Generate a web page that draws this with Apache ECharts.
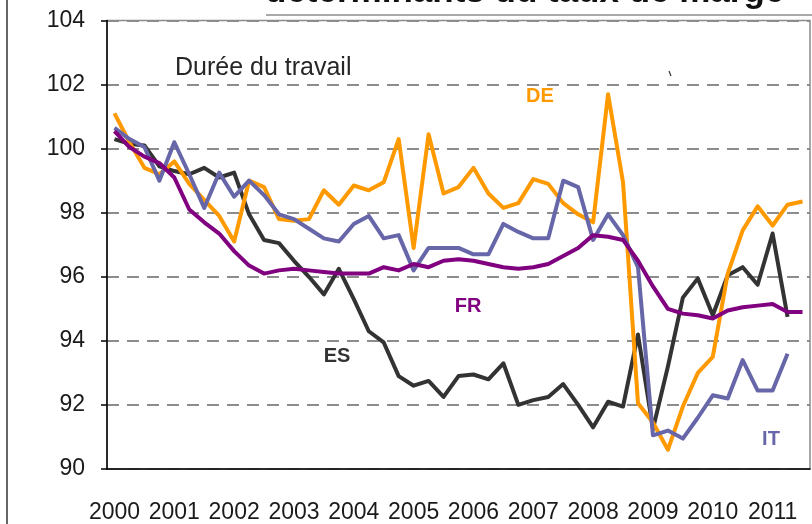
<!DOCTYPE html>
<html>
<head>
<meta charset="utf-8">
<script src="https://cdn.jsdelivr.net/npm/echarts@6/dist/echarts.min.js"></script>
<style>
  html, body { margin: 0; padding: 0; background: #fff; }
  #chart { width: 812px; height: 524px; }
</style>
</head>
<body>
<div id="chart"></div>
<script>
// années affichées sur l'axe, données trimestrielles 2000T1 - 2011T3
const years = ['2000', '2001', '2002', '2003', '2004', '2005', '2006', '2007', '2008', '2009', '2010', '2011']
const quarters = years.flatMap(y => [y + 'T1', y + 'T2', y + 'T3', y + 'T4']).slice(0, 47)
const yTicks = [90, 92, 94, 96, 98, 100, 102, 104]

const de = [101.1, 100.2, 99.4, 99.2, 99.6, 98.9, 98.4, 97.9, 97.1, 99.0, 98.8, 97.8,
  97.75, 97.8, 98.7, 98.25, 98.85, 98.7, 98.95, 100.3, 96.9, 100.45, 98.6, 98.8,
  99.4, 98.6, 98.15, 98.3, 99.05, 98.9, 98.3, 97.95, 97.7, 101.7, 98.95, 92.05,
  91.45, 90.6, 91.95, 93.0, 93.5, 96.1, 97.45, 98.2, 97.6, 98.25, 98.35]
const fr = [100.55, 100.05, 99.75, 99.55, 99.1, 98.1, 97.7, 97.35, 96.8, 96.35, 96.1, 96.2,
  96.25, 96.2, 96.15, 96.1, 96.1, 96.1, 96.3, 96.2, 96.4, 96.3, 96.5, 96.55,
  96.5, 96.4, 96.3, 96.25, 96.3, 96.4, 96.65, 96.9, 97.3, 97.25, 97.15, 96.5,
  95.7, 95.0, 94.85, 94.8, 94.7, 94.95, 95.05, 95.1, 95.15, 94.9, 94.9]
const it = [100.65, 100.3, 100.05, 99.0, 100.2, 99.2, 98.15, 99.25, 98.5, 99.0, 98.55, 97.95,
  97.8, 97.5, 97.2, 97.1, 97.65, 97.9, 97.2, 97.3, 96.2, 96.9, 96.9, 96.9,
  96.7, 96.7, 97.65, 97.4, 97.2, 97.2, 99.0, 98.8, 97.15, 97.95, 97.3, 96.3,
  91.05, 91.2, 90.95, 91.6, 92.3, 92.2, 93.4, 92.45, 92.45, 93.6]
const es = [100.3, 100.15, 100.1, 99.45, 99.3, 99.2, 99.4, 99.1, 99.25, 97.95, 97.15, 97.05,
  96.5, 96.0, 95.45, 96.25, 95.3, 94.3, 93.95, 92.9, 92.6, 92.75, 92.25, 92.9,
  92.95, 92.8, 93.3, 92.0, 92.15, 92.25, 92.65, 92.0, 91.3, 92.1, 91.95, 94.2,
  91.25, 93.2, 95.35, 95.95, 94.8, 96.05, 96.3, 95.75, 97.35, 94.75]

const font = 'Liberation Sans, Arial, sans-serif'

function line(name, data, color) {
  return {
    name: name,
    type: 'line',
    data: data,
    symbol: 'none',
    lineStyle: { color: color, width: 4, join: 'round' },
    itemStyle: { color: color }
  }
}

function tag(text, x, y, color) {
  return {
    type: 'text', x: x, y: y,
    style: { text: text, fill: color, font: 'bold 20px ' + font, align: 'center', verticalAlign: 'middle' }
  }
}

const myChart = echarts.init(document.getElementById('chart'))
myChart.setOption({
  animation: false,
  grid: {
    left: 107, right: 2, top: 20.5, bottom: 54,
    show: true, borderColor: '#8a8a8a', borderWidth: 1.5
  },
  xAxis: {
    type: 'category',
    data: quarters,
    boundaryGap: true,
    axisLine: { lineStyle: { color: '#000', width: 1.5 } },
    axisTick: { interval: 3, length: 7, lineStyle: { color: '#000', width: 1.5 } },
    axisLabel: {
      interval: 3, margin: 32, fontSize: 23, color: '#1a1a1a', fontFamily: font,
      formatter: v => v.slice(0, 4)
    },
    splitLine: { show: false }
  },
  yAxis: {
    type: 'value',
    min: yTicks[0], max: yTicks[yTicks.length - 1], interval: 2,
    axisLine: { show: true, lineStyle: { color: '#000', width: 1.5 } },
    axisTick: { show: true, length: 6, lineStyle: { color: '#000', width: 1.5 } },
    axisLabel: { margin: 22, fontSize: 23, color: '#1a1a1a', fontFamily: font },
    splitLine: { lineStyle: { color: '#8c8c8c', width: 1.8, type: [12, 8] } }
  },
  series: [
    line('ES', es, '#333333'),
    line('DE', de, '#ff9900'),
    line('IT', it, '#6666a8'),
    line('FR', fr, '#800080')
  ],
  graphic: [
    {
      type: 'text', x: 265, y: -8,
      style: { text: 'déterminants du taux de marge', fill: '#111', font: 'bold 35px ' + font, verticalAlign: 'middle' }
    },
    { type: 'line', shape: { x1: 266, y1: 15, x2: 812, y2: 15 }, style: { stroke: '#555', lineWidth: 1.2 } },
    { type: 'line', shape: { x1: 7, y1: 0, x2: 7, y2: 524 }, style: { stroke: '#333', lineWidth: 1.5 } },
    { type: 'line', shape: { x1: 669, y1: 71, x2: 671, y2: 76 }, style: { stroke: '#333', lineWidth: 1.2 } },
    {
      type: 'text', x: 175, y: 68,
      style: { text: 'Durée du travail', fill: '#262626', font: '25px ' + font, verticalAlign: 'middle' }
    },
    tag('DE', 540, 96, '#ff9900'),
    tag('FR', 468, 306, '#800080'),
    tag('ES', 337, 356, '#333333'),
    tag('IT', 771, 439, '#6666a8')
  ]
})
</script>
</body>
</html>
